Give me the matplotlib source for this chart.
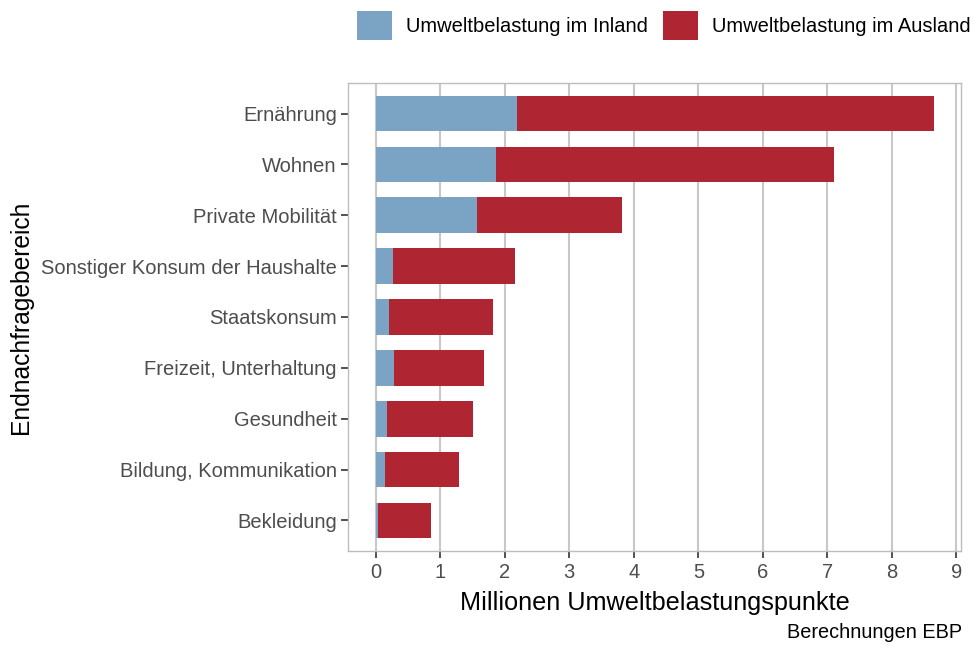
import matplotlib.pyplot as plt
from matplotlib.patches import Patch

# values (millions of UBP)
categories = ['Ernährung', 'Wohnen', 'Private Mobilität',
              'Sonstiger Konsum der Haushalte', 'Staatskonsum',
              'Freizeit, Unterhaltung', 'Gesundheit',
              'Bildung, Kommunikation', 'Bekleidung']
inland = [2.19, 1.86, 1.57, 0.26, 0.21, 0.29, 0.17, 0.15, 0.03]
total = [8.65, 7.10, 3.81, 2.16, 1.81, 1.67, 1.50, 1.29, 0.86]
ausland = [t - i for t, i in zip(total, inland)]

series_labels = ['Umweltbelastung im Inland', 'Umweltbelastung im Ausland']
blue = '#7BA3C4'
red = '#AF2532'

plt.rcParams['font.family'] = ['Liberation Sans', 'DejaVu Sans']

W, H = 974, 645
fig = plt.figure(figsize=(W / 100, H / 100), dpi=100)
ax = fig.add_axes([348 / W, (H - 551) / H, (961 - 348) / W, (551 - 83) / H])

pos = list(range(len(categories)))[::-1]
ax.barh(pos, inland, height=0.7, color=blue, zorder=3)
ax.barh(pos, ausland, left=inland, height=0.7, color=red, zorder=3)

ax.set_xlim(-0.43, 9.07)
ax.set_ylim(-0.6, len(categories) - 1 + 0.6)
ax.set_xticks(range(10))
ax.set_yticks(pos)
ax.set_yticklabels(categories)

ax.grid(axis='x', color='#C8C8C8', linewidth=1.5, zorder=0)
for s in ax.spines.values():
    s.set_color('#BDBDBD')
    s.set_linewidth(1.0)

ax.tick_params(axis='both', colors='#333333', labelcolor='#4D4D4D',
               labelsize=14.5, length=5, width=1.2)
ax.tick_params(axis='y', pad=3)
ax.tick_params(axis='x', pad=4)

ax.set_xlabel('Millionen Umweltbelastungspunkte', fontsize=18.2, color='black', labelpad=6)
ax.set_ylabel('Endnachfragebereich', fontsize=17.7, color='black', labelpad=6)

fig.text(962 / W, 1 - 633 / H, 'Berechnungen EBP', ha='right', va='center',
         fontsize=14.3, color='black')

handles = [Patch(facecolor=blue, edgecolor='none'),
           Patch(facecolor=red, edgecolor='none')]
fig.legend(handles, series_labels, loc='upper right', ncol=2,
           bbox_to_anchor=(983 / W, 1 + 1 / H), frameon=False,
           fontsize=14.5, handlelength=1.75, handleheight=1.8,
           handletextpad=0.7, columnspacing=0.75, borderaxespad=0.2)

fig.savefig('out.png', dpi=100)
